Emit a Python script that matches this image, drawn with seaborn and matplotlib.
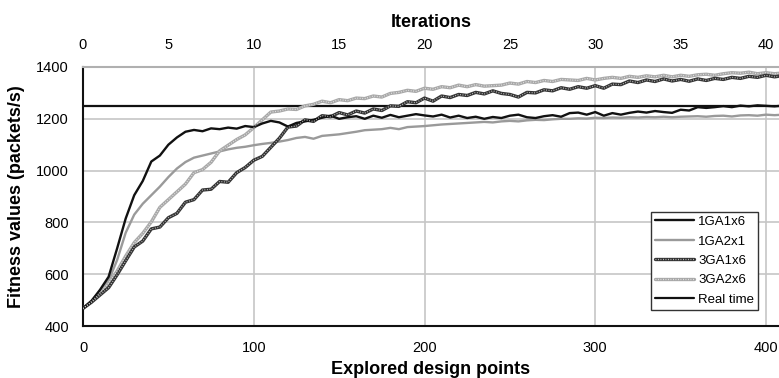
import numpy as np
import pandas as pd
import matplotlib
matplotlib.use("Agg")
import matplotlib.pyplot as plt
import seaborn as sns
from matplotlib.legend_handler import HandlerTuple

# Explored design points (one sample every 5 points)
design_points = list(range(0, 415, 5))

ga1_1x6 = [468, 497, 540, 590, 700, 815, 905, 960, 1035, 1058, 1100, 1128, 1150, 1157, 1152,
           1163, 1160, 1166, 1162, 1172, 1168, 1182, 1192, 1186, 1170, 1184, 1190, 1196, 1204,
           1212, 1200, 1206, 1210, 1200, 1212, 1204, 1215, 1206, 1212, 1218, 1213, 1209, 1216,
           1205, 1212, 1203, 1208, 1200, 1207, 1203, 1212, 1216, 1206, 1203, 1210, 1214, 1208,
           1222, 1224, 1216, 1226, 1212, 1222, 1216, 1223, 1228, 1224, 1230, 1226, 1223, 1235,
           1232, 1245, 1242, 1245, 1249, 1245, 1251, 1248, 1252, 1250, 1248, 1251]

ga1_2x1 = [468, 497, 535, 575, 655, 760, 830, 872, 905, 938, 975, 1008, 1033, 1050, 1058,
           1066, 1074, 1082, 1088, 1092, 1098, 1103, 1107, 1112, 1118, 1126, 1130, 1123, 1134,
           1137, 1140, 1145, 1150, 1156, 1158, 1160, 1165, 1160, 1168, 1170, 1172, 1175, 1178,
           1180, 1182, 1184, 1186, 1188, 1186, 1190, 1192, 1190, 1194, 1196, 1195, 1198, 1200,
           1200, 1202, 1201, 1204, 1203, 1205, 1204, 1206, 1205, 1207, 1206, 1208, 1206, 1208,
           1209, 1210, 1208, 1211, 1212, 1209, 1213, 1214, 1212, 1216, 1214, 1216]

ga3_1x6 = [468, 492, 520, 548, 598, 652, 705, 728, 775, 782, 818, 835, 878, 888, 925,
           928, 958, 955, 992, 1012, 1040, 1055, 1090, 1125, 1168, 1172, 1196, 1190, 1212,
           1208, 1224, 1215, 1230, 1222, 1238, 1232, 1250, 1248, 1266, 1262, 1280, 1268, 1288,
           1282, 1294, 1290, 1302, 1296, 1308, 1298, 1294, 1284, 1302, 1300, 1312, 1308, 1320,
           1314, 1324, 1318, 1328, 1318, 1334, 1332, 1346, 1340, 1350, 1344, 1354, 1346, 1352,
           1345, 1354, 1348, 1356, 1352, 1360, 1356, 1364, 1360, 1368, 1362, 1367]

ga3_2x6 = [468, 495, 528, 565, 612, 670, 722, 758, 802, 858, 888, 918, 948, 992, 1004,
           1032, 1076, 1098, 1120, 1138, 1166, 1196, 1226, 1230, 1238, 1236, 1250, 1256, 1268,
           1262, 1274, 1270, 1280, 1278, 1288, 1284, 1298, 1302, 1310, 1306, 1318, 1314, 1324,
           1320, 1330, 1324, 1332, 1326, 1328, 1330, 1338, 1334, 1344, 1340, 1348, 1344, 1352,
           1350, 1348, 1356, 1350, 1356, 1360, 1356, 1364, 1360, 1366, 1362, 1368, 1362, 1368,
           1364, 1370, 1372, 1368, 1374, 1378, 1376, 1380, 1374, 1378, 1374, 1377]

real_time = 1250

series_names = ["1GA1x6", "1GA2x1", "3GA1x6", "3GA2x6"]
series_values = [ga1_1x6, ga1_2x1, ga3_1x6, ga3_2x6]

y_ticks = [400, 600, 800, 1000, 1200, 1400]
x_ticks = [0, 100, 200, 300, 400]
iter_ticks = [0, 5, 10, 15, 20, 25, 30, 35, 40]

df = pd.concat(
    [pd.DataFrame({"points": design_points, "fitness": vals, "run": name})
     for name, vals in zip(series_names, series_values)],
    ignore_index=True,
)

sns.set_theme(style="white")
plt.rcParams["font.family"] = ["Liberation Sans", "DejaVu Sans"]
plt.rcParams["text.color"] = "black"
plt.rcParams["axes.labelcolor"] = "black"

fig = plt.figure(figsize=(7.79, 3.78), dpi=100)
ax = fig.add_axes([83 / 779, 52 / 378, 696 / 779, 259 / 378])

# Grid
ax.set_axisbelow(True)
ax.grid(True, color="#c6c6c6", linewidth=1.2)

# Real-time reference line
rt = ax.axhline(real_time, color="#111111", linewidth=1.6, zorder=3)

styles = {
    "1GA1x6": dict(color="#111111", lw=1.7),
    "1GA2x1": dict(color="#9a9a9a", lw=1.7),
    "3GA1x6": dict(color="#333333", lw=2.4),
    "3GA2x6": dict(color="#a8a8a8", lw=2.4),
}
textured = {"3GA1x6", "3GA2x6"}

handles = {}
draw_order = ["1GA2x1", "3GA2x6", "3GA1x6", "1GA1x6"]
for name in draw_order:
    sub = df[df["run"] == name]
    st = styles[name]
    sns.lineplot(data=sub, x="points", y="fitness", ax=ax, color=st["color"],
                 linewidth=st["lw"], estimator=None, sort=False, zorder=4)
    base = ax.lines[-1]
    if name in textured:
        sns.lineplot(data=sub, x="points", y="fitness", ax=ax, color="white",
                     linewidth=0.9, estimator=None, sort=False, zorder=5,
                     linestyle=(0, (0.7, 1.3)), alpha=0.7)
        handles[name] = (base, ax.lines[-1])
    else:
        handles[name] = base

ax.set_xlim(0, 407.6)
ax.set_ylim(400, 1400)
ax.set_xticks(x_ticks)
ax.set_yticks(y_ticks)
ax.tick_params(axis="both", length=0, labelsize=10.5, colors="black")
ax.tick_params(axis="x", pad=11)
ax.tick_params(axis="y", pad=10)
ax.set_xlabel("Explored design points", fontsize=13, fontweight="bold", labelpad=4)
ax.set_ylabel("Fitness values (packets/s)", fontsize=13, fontweight="bold", labelpad=8)

for side in ["left", "bottom"]:
    ax.spines[side].set_color("#111111")
    ax.spines[side].set_linewidth(1.5)
ax.spines["top"].set_color("#b0b0b0")
ax.spines["top"].set_linewidth(1.5)
ax.spines["right"].set_visible(False)

# Iterations on the top axis (10 design points per iteration)
top = ax.secondary_xaxis("top", functions=(lambda p: p / 10.0, lambda i: i * 10.0))
top.set_xticks(iter_ticks)
top.tick_params(length=0, labelsize=10.5, pad=11, colors="black")
top.spines["top"].set_visible(False)
top.set_xlabel("Iterations", fontsize=13, fontweight="bold", labelpad=8, color="black")

leg_handles = [handles[n] for n in series_names] + [rt]
leg_labels = series_names + ["Real time"]
leg = ax.legend(leg_handles, leg_labels, loc="lower right",
                bbox_to_anchor=(0.97, 0.062), fontsize=9.5, frameon=True,
                fancybox=False, edgecolor="#333333", framealpha=1,
                handlelength=3.0, handletextpad=0.3, labelspacing=0.55,
                borderpad=0.3, borderaxespad=0,
                handler_map={tuple: HandlerTuple(ndivide=1, pad=0)})
leg.get_frame().set_linewidth(1.0)
for t in leg.get_texts():
    t.set_color("black")

fig.savefig("out.png", dpi=100)
